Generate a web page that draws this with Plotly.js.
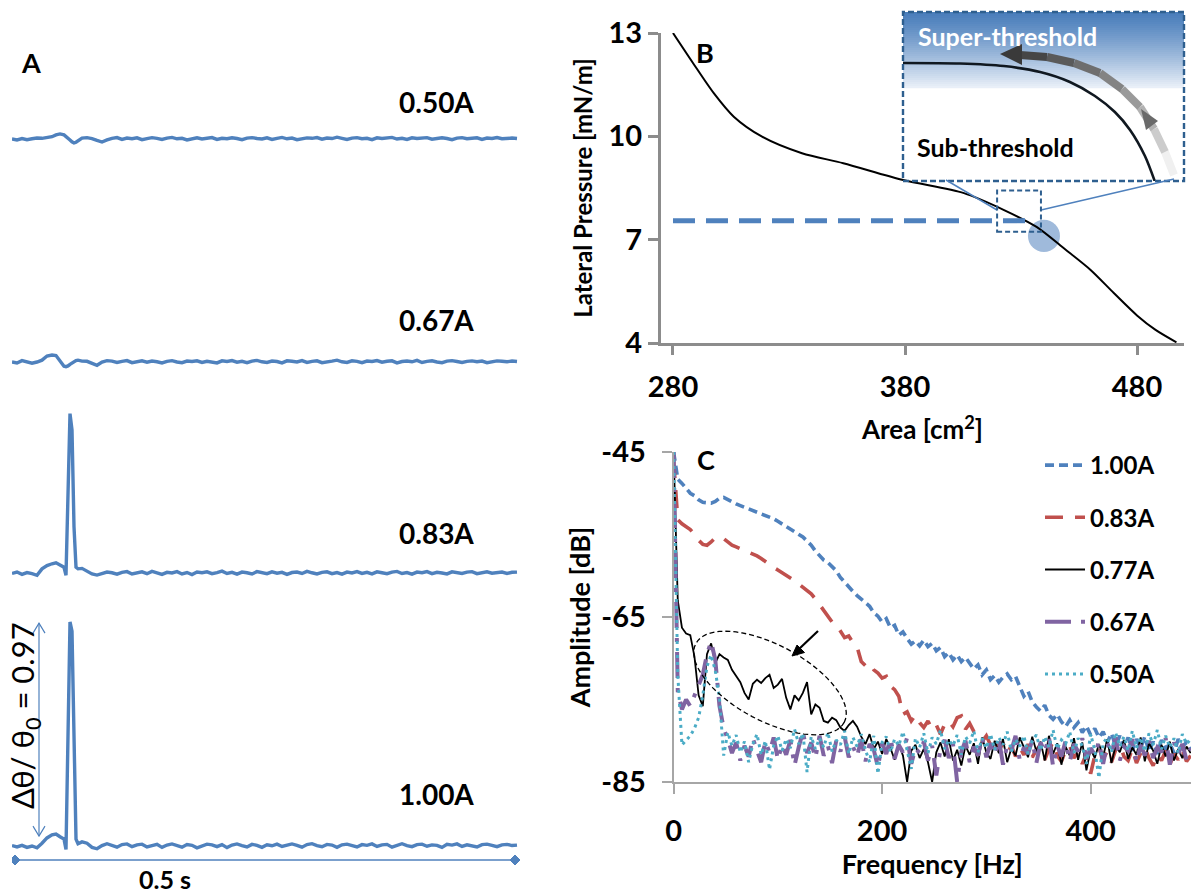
<!DOCTYPE html>
<html><head><meta charset="utf-8">
<script src="https://cdn.plot.ly/plotly-3.0.1.min.js"></script>
<style>html,body{margin:0;padding:0;background:#fff;}#chart{width:1191px;height:896px;}</style>
</head><body><div id="chart"></div>
<script>
// ---------------- Panel A : time traces (Δθ/θ0 vs time, s) ----------------
const timeS = [0,0.005,0.01,0.015,0.02,0.025,0.03,0.035,0.04,0.044,0.048,0.052,0.054,0.056,0.058,0.06,0.062,0.064,0.066,0.07,0.075,0.08,0.085,0.09,0.095,0.1,0.105,0.11,0.115,0.12,0.125,0.13,0.135,0.14,0.145,0.15,0.155,0.16,0.165,0.17,0.175,0.18,0.185,0.19,0.195,0.2,0.205,0.21,0.215,0.22,0.225,0.23,0.235,0.24,0.245,0.25,0.255,0.26,0.265,0.27,0.275,0.28,0.285,0.29,0.295,0.3,0.305,0.31,0.315,0.32,0.325,0.33,0.335,0.34,0.345,0.35,0.355,0.36,0.365,0.37,0.375,0.38,0.385,0.39,0.395,0.4,0.405,0.41,0.415,0.42,0.425,0.43,0.435,0.44,0.445,0.45,0.455,0.46,0.465,0.47,0.475,0.48,0.485,0.49,0.495,0.5,0.505];
const trace100A = [0.002,-0.004,0.003,-0.006,0.000,-0.008,0.012,0.035,0.048,0.052,
0.040,0.030,-0.015,0.50,0.97,0.93,0.40,0.030,0.010,0.018,
0.012,-0.006,-0.012,0.002,0.010,0.004,-0.005,0.006,0.009,-0.003,
0.005,0.008,-0.004,0.002,0.007,-0.006,0.004,0.009,0.001,-0.005,
0.006,0.003,-0.008,0.002,0.008,0.005,-0.003,0.006,-0.007,0.004,
0.009,0.002,-0.004,0.007,0.003,-0.006,0.005,0.001,0.008,-0.002,
0.004,0.009,0.003,-0.005,0.006,0.010,0.002,-0.003,0.007,0.004,
-0.006,0.005,0.008,0.001,-0.004,0.006,0.003,0.009,-0.002,0.005,
0.007,-0.005,0.004,0.010,0.002,-0.003,0.006,0.008,-0.001,0.005,
0.003,-0.006,0.007,0.004,0.009,-0.002,0.005,0.001,-0.004,0.006,
0.008,0.003,-0.003,0.005,0.007,0.002,0.004];
const trace083A = [-0.002,0.004,-0.006,0.002,-0.003,-0.010,0.018,0.032,0.040,0.044,
0.035,0.025,-0.010,0.42,0.69,0.62,0.20,0.025,0.018,0.020,
0.008,-0.004,-0.009,-0.002,0.004,0.001,-0.005,0.003,0.006,-0.004,
0.002,0.005,-0.003,0.007,0.001,-0.006,0.003,0.000,0.006,-0.004,
0.002,-0.007,0.004,0.001,0.005,-0.003,0.002,0.008,-0.002,0.003,
-0.005,0.004,0.001,-0.004,0.006,0.002,-0.003,0.005,-0.001,0.003,
-0.006,0.002,0.004,-0.002,0.007,0.001,-0.004,0.003,0.005,-0.003,
0.002,-0.005,0.004,0.000,0.006,-0.002,0.003,-0.004,0.005,0.001,
-0.003,0.004,0.007,-0.002,0.002,-0.005,0.004,0.001,0.006,-0.003,
0.003,0.000,-0.004,0.005,0.002,-0.002,0.004,0.006,-0.003,0.002,
0.005,-0.001,0.003,0.004,-0.002,0.003,0.004];
const trace067A = [0.000,-0.004,0.006,0.002,-0.005,0.000,0.008,0.026,0.030,0.028,
0.006,-0.018,-0.020,-0.017,-0.010,-0.004,0.002,0.006,0.008,0.004,
0.003,-0.006,-0.014,0.000,0.006,
0.004,-0.002,0.003,0.006,-0.003,0.002,0.005,-0.001,0.004,0.001,
-0.004,0.003,0.006,0.000,-0.003,0.004,0.002,0.005,-0.002,0.003,
0.001,-0.004,0.005,0.002,0.006,-0.001,0.003,-0.003,0.004,0.007,
0.001,-0.002,0.004,0.002,-0.004,0.005,0.003,0.000,0.006,-0.002,
0.003,0.005,-0.003,0.002,0.004,0.008,0.001,-0.002,0.005,0.003,
-0.003,0.004,0.002,0.006,-0.001,0.003,0.005,-0.004,0.002,0.004,
0.001,0.007,-0.002,0.003,0.005,0.000,-0.003,0.004,0.006,0.002,
-0.002,0.003,0.005,0.001,0.004,-0.003,0.002,0.005,0.003,0.001,
0.004,0.002];
const trace050A = [0.000,-0.004,0.002,-0.003,0.001,0.004,0.003,0.008,0.010,0.018,
0.022,0.018,0.012,0.004,-0.004,-0.012,-0.017,-0.014,-0.008,0.004,
0.006,0.002,-0.006,-0.013,-0.004,
0.003,0.006,-0.002,0.004,0.001,0.005,-0.003,0.002,0.006,0.003,
-0.002,0.004,0.007,0.001,0.003,-0.004,0.002,0.005,0.000,0.004,
0.006,-0.002,0.003,0.001,0.005,0.002,-0.003,0.004,0.006,0.002,
0.000,0.005,-0.002,0.003,0.007,0.001,0.004,-0.003,0.002,0.005,
0.003,0.006,-0.001,0.004,0.002,0.008,0.003,-0.002,0.004,0.006,
0.001,0.003,-0.003,0.005,0.002,0.004,0.007,0.000,0.003,-0.002,
0.005,0.002,0.004,0.006,-0.001,0.003,0.005,0.002,-0.003,0.004,
0.006,0.001,0.003,0.005,-0.002,0.004,0.002,0.006,0.001,0.003,
0.004,0.002];
const traceLabelsA = ['1.00A','0.83A','0.67A','0.50A'];
const deltaTheta = 0.97;

// ---------------- Panel B : isotherm ----------------
const areaCm2 = [280,288.6,297.5,306.2,318.4,335.6,353.4,379.3,405.4,422.7,436.7,449,460,470,480,488,497];
const pressureMNm = [13,12.13,11.26,10.57,9.99,9.51,9.22,8.73,8.35,7.86,7.37,6.72,6.12,5.45,4.8,4.38,4.02];
const thresholdPressure = 7.55;
const areaTicks = [280,380,480];
const pressureTicks = [4,7,10,13];
// inset (zoomed, normalized units)
const insetX = [0,0.203,0.359,0.488,0.594,0.683,0.754,0.808,0.861,0.897];
const insetY = [0.698,0.695,0.680,0.645,0.586,0.503,0.408,0.302,0.148,-0.006];

// ---------------- Panel C : spectra ----------------
const freqHz = [0,4,8,12,16,20,24,28,32,36,40,44,48,52,56,60,64,68,72,76,80,84,88,92,96,100,104,108,112,116,120,124,128,132,136,140,144,148,152,156,160,164,168,172,176,180,184,188,192,196,200,204,208,212,216,220,224,228,232,236,240,244,248,252,256,260,264,268,272,276,280,284,288,292,296,300,304,308,312,316,320,324,328,332,336,340,344,348,352,356,360,364,368,372,376,380,384,388,392,396,400,404,408,412,416,420,424,428,432,436,440,444,448,452,456,460,464,468,472,476,480,484,488,492,496];
const amp100 = [-45,-48.3,-48.8,-49.4,-50,-50.3,-50.8,-51.1,-51.2,-51.2,
-51,-50.6,-50.5,-50.8,-51.1,-51.3,-51.5,-51.7,-51.9,-52.1,
-52.2,-52.4,-52.6,-52.9,-53.1,-53.4,-53.7,-54.0,-54.3,-54.6,
-54.9,-55.3,-55.8,-56.3,-57.0,-57.6,-58.1,-58.4,-58.9,-59.4,
-60.2,-60.8,-61.3,-61.9,-62.4,-62.8,-63.2,-63.7,-64.5,-64.9,
-65.6,-65.2,-66.3,-66.0,-67.2,-66.8,-67.6,-68.3,-67.9,-68.5,
-67.8,-68.6,-68.2,-69.1,-68.7,-69.8,-69.3,-70.2,-69.6,-70.4,
-69.9,-70.6,-71.3,-70.8,-72.0,-71.4,-72.6,-72.1,-72.9,-72.3,
-71.9,-72.6,-72.2,-73.4,-74.6,-74.0,-75.3,-75.9,-76.4,-75.7,
-76.9,-77.4,-76.8,-77.7,-78.3,-77.5,-78.4,-77.8,-79.0,-78.2,
-79.3,-78.5,-79.6,-78.9,-80.2,-79.1,-80.6,-79.4,-80.8,-79.6,
-81.2,-79.8,-80.9,-79.5,-81.3,-80.1,-81.6,-79.9,-81.0,-80.3,
-81.5,-79.8,-80.7,-80.2,-81.1];
const amp083 = [-46,-53.2,-53.7,-54.0,-54.4,-55.0,-55.7,-56.2,-56.3,-55.9,
-55.4,-55.3,-55.5,-55.9,-56.3,-56.5,-56.7,-56.9,-57.1,-57.3,
-57.6,-57.9,-58.3,-58.7,-59.0,-59.3,-59.6,-59.9,-60.2,-60.6,
-61.0,-61.4,-61.8,-62.2,-62.8,-63.5,-64.2,-64.9,-65.6,-65.9,
-66.8,-67.5,-67.3,-68.1,-68.6,-70.4,-70.9,-70.6,-71.4,-71.8,
-72.4,-72.2,-73.4,-73.8,-74.6,-76.8,-76.5,-77.6,-76.9,-77.8,
-78.4,-77.6,-78.6,-78.1,-79.2,-78.0,-77.6,-78.3,-77.2,-77.0,
-78.6,-77.9,-78.9,-79.3,-80.1,-79.4,-80.5,-79.8,-81.2,-80.3,
-81.5,-80.6,-81.9,-80.8,-81.7,-80.4,-82.0,-81.1,-80.5,-82.3,
-81.0,-80.2,-81.8,-82.5,-81.2,-80.6,-82.1,-81.4,-82.8,-81.6,
-84.0,-81.8,-80.9,-82.2,-81.3,-82.6,-81.1,-80.4,-81.9,-82.4,
-81.0,-82.7,-81.5,-80.8,-82.1,-83.0,-81.7,-82.4,-81.2,-82.9,
-81.6,-82.3,-81.1,-82.5,-81.8];
const amp077 = [-45,-63.0,-66.3,-67.0,-67.2,-69.8,-74.5,-75.8,-69.5,-68.2,
-70.6,-69.5,-69.9,-70.2,-71.4,-72.1,-72.9,-74.2,-75.0,-73.1,
-72.6,-73.0,-72.4,-72.0,-73.6,-73.2,-72.5,-74.8,-76.2,-74.5,
-75.1,-74.2,-72.9,-76.8,-75.6,-76.0,-77.6,-77.8,-77.2,-77.5,
-78.4,-78.8,-78.1,-77.6,-78.3,-79.5,-80.4,-79.2,-81.0,-80.1,
-81.6,-79.8,-80.9,-82.3,-80.4,-81.8,-85.0,-81.2,-80.5,-82.1,
-81.0,-82.6,-85.0,-81.4,-80.2,-81.9,-79.8,-82.4,-81.1,-83.0,
-80.6,-81.7,-80.3,-82.8,-79.6,-81.4,-82.2,-80.0,-81.5,-79.8,
-82.6,-80.9,-81.8,-79.6,-80.8,-82.0,-79.5,-81.3,-80.1,-82.4,
-79.4,-81.6,-80.3,-82.9,-80.7,-81.8,-79.7,-82.3,-80.2,-83.6,
-81.0,-82.1,-80.4,-81.9,-79.8,-82.7,-80.6,-81.4,-79.9,-82.2,
-80.8,-81.7,-79.6,-82.5,-80.3,-81.2,-82.8,-80.5,-81.9,-80.1,
-82.4,-81.0,-82.1,-80.7,-81.5];
const amp067 = [-45,-74.0,-76.2,-75.0,-75.8,-74.6,-73.5,-72.0,-69.5,-68.0,
-70.2,-75.8,-78.5,-79.8,-81.5,-80.2,-82.4,-80.6,-81.9,-79.7,
-81.2,-82.6,-80.1,-81.4,-79.6,-82.3,-80.5,-81.7,-79.9,-83.0,
-80.8,-78.9,-81.5,-80.2,-82.1,-79.4,-81.8,-80.6,-82.7,-80.0,
-81.3,-79.5,-82.0,-80.7,-81.9,-79.8,-82.5,-80.4,-81.1,-83.2,
-80.3,-81.6,-79.7,-82.2,-80.5,-81.4,-79.6,-82.8,-80.9,-81.5,
-80.1,-82.4,-80.6,-84.2,-81.0,-79.9,-82.1,-80.4,-85.0,-81.3,
-80.0,-82.6,-80.7,-81.8,-79.6,-82.0,-80.3,-81.7,-79.8,-82.9,
-80.5,-81.2,-79.4,-82.3,-80.8,-81.6,-79.9,-82.7,-80.2,-81.4,
-79.5,-83.1,-80.6,-81.9,-80.0,-82.5,-80.4,-81.3,-79.7,-82.2,
-80.9,-81.7,-80.1,-82.8,-80.3,-81.5,-79.6,-82.4,-80.7,-81.2,
-79.8,-82.6,-80.5,-81.8,-80.0,-82.1,-80.8,-81.4,-79.7,-82.9,
-80.2,-81.6,-80.4,-82.3,-80.9];
const amp050 = [-45,-72.0,-80.5,-80.0,-79.4,-78.5,-77.2,-74.5,-71.0,-69.6,
-71.5,-74.8,-81.8,-79.0,-80.6,-79.3,-81.4,-80.1,-82.6,-80.4,
-79.2,-81.7,-80.0,-83.5,-80.6,-79.4,-81.2,-79.8,-80.9,-78.6,
-80.4,-79.1,-83.8,-79.5,-81.0,-79.7,-80.8,-79.0,-81.3,-79.9,
-80.5,-78.8,-81.6,-79.6,-80.7,-79.2,-81.1,-82.6,-79.4,-84.0,
-80.2,-79.5,-81.4,-79.8,-80.6,-78.9,-81.2,-83.4,-79.7,-80.8,
-79.1,-81.5,-79.6,-80.4,-78.7,-81.0,-79.9,-80.6,-79.3,-81.7,
-79.5,-80.3,-78.8,-81.4,-79.7,-80.9,-79.2,-81.1,-79.6,-80.5,
-78.9,-81.3,-79.8,-80.7,-79.4,-81.6,-80.0,-79.3,-81.2,-79.5,
-80.8,-78.7,-81.0,-79.9,-80.4,-78.9,-81.5,-79.7,-80.6,-82.8,
-79.2,-81.1,-84.5,-80.3,-79.6,-81.4,-79.0,-80.7,-79.5,-81.2,
-78.8,-80.9,-79.6,-81.3,-79.1,-80.5,-78.7,-81.0,-79.4,-80.8,
-79.7,-81.5,-79.2,-80.4,-79.8];
const spectraNames = ['1.00A','0.83A','0.77A','0.67A','0.50A'];
const freqTicks = [0,200,400];
const ampTicks = [-45,-65,-85];

// ---------------- helpers / styles ----------------
const W = 1191, H = 896;
const fx = p => p / W, fy = p => 1 - p / H;
const FONT = 'Lato, "Open Sans", "DejaVu Sans", sans-serif';
const BLUE = '#4F81BD', DARKBLUE = '#2E5F8F';
const S = 231; // px per unit of Δθ/θ0
const yDom = (base, lo, hi) => [fy(base - lo * S), fy(base - hi * S)];
const font = (size, color) => ({family: FONT, size: size, color: color || '#000'});
const B = s => '<b>' + s + '</b>';

const traces = [];
// Panel A
const aSeries = [trace100A, trace083A, trace067A, trace050A];
const aY = ['y3', 'y4', 'y5', 'y6'];
aSeries.forEach((s, i) => traces.push({x: timeS, y: s, xaxis: 'x3', yaxis: aY[i], mode: 'lines',
  line: {color: BLUE, width: 3.4}, showlegend: false, name: traceLabelsA[i], hoverinfo: 'skip'}));
// Panel B
traces.push({x: areaCm2, y: pressureMNm, xaxis: 'x', yaxis: 'y', mode: 'lines',
  line: {color: '#000', width: 2, shape: 'spline', smoothing: 0.8}, showlegend: false, hoverinfo: 'skip'});
traces.push({x: insetX, y: insetY, xaxis: 'x4', yaxis: 'y7', mode: 'lines',
  line: {color: '#101820', width: 2.6, shape: 'spline', smoothing: 0.8}, showlegend: false, hoverinfo: 'skip'});
// Panel C
const cSeries = [amp100, amp083, amp077, amp067, amp050];
const cStyle = [
  {color: '#4F81BD', width: 3.6, dash: '9px,5px'},
  {color: '#C0504D', width: 3.6, dash: '18px,12px'},
  {color: '#000000', width: 1.8},
  {color: '#8064A2', width: 4, dash: '26px,10px,4px,10px'},
  {color: '#4BACC6', width: 3, dash: '3px,4px'}
];
cSeries.forEach((s, i) => traces.push({x: freqHz, y: s, xaxis: 'x2', yaxis: 'y2', mode: 'lines',
  line: cStyle[i], name: B(spectraNames[i]), legendgroup: 'g' + i, hoverinfo: 'skip'}));

// ---------------- shapes ----------------
const shapes = [];
const poly = (pts, close) => 'M ' + pts.map(p => fx(p[0]) + ' ' + fy(p[1])).join(' L ') + (close ? ' Z' : '');
// inset gradient (paper px)
const gTop = 12, gBot = 88;
for (let p = gTop; p < gBot; p += 2) {
  const t = Math.pow((p - gTop) / (gBot - gTop), 1.2);
  const r = Math.round(74 + (238 - 74) * t), g = Math.round(126 + (243 - 126) * t), b = Math.round(187 + (250 - 187) * t);
  shapes.push({type: 'rect', xref: 'paper', yref: 'paper', x0: fx(903), x1: fx(1184), y0: fy(p + 2.2), y1: fy(p),
    fillcolor: `rgb(${r},${g},${b})`, line: {width: 0}, layer: 'below'});
}
// inset frame
shapes.push({type: 'rect', xref: 'paper', yref: 'paper', x0: fx(903), x1: fx(1184), y0: fy(181), y1: fy(12),
  line: {color: DARKBLUE, width: 2.4, dash: '6px,3px'}, fillcolor: 'rgba(0,0,0,0)'});
// connector lines
shapes.push({type: 'line', xref: 'paper', yref: 'paper', x0: fx(946), y0: fy(180), x1: fx(997), y1: fy(210), line: {color: BLUE, width: 1.5}});
shapes.push({type: 'line', xref: 'paper', yref: 'paper', x0: fx(1041), y0: fy(210), x1: fx(1174), y1: fy(179), line: {color: BLUE, width: 1.5}});
// threshold circle
shapes.push({type: 'circle', xref: 'x', yref: 'y', x0: 433, x1: 446.8, y0: 6.64, y1: 7.58,
  fillcolor: 'rgba(149,179,215,0.9)', line: {width: 0}, layer: 'below'});
// dashed threshold line
shapes.push({type: 'line', xref: 'x', yref: 'y', x0: 280, x1: 434, y0: thresholdPressure, y1: thresholdPressure,
  line: {color: BLUE, width: 5, dash: '22px,11px'}});
// small zoom box
shapes.push({type: 'rect', xref: 'x', yref: 'y', x0: 419.7, x1: 438.6, y0: 7.23, y1: 8.43,
  line: {color: DARKBLUE, width: 2, dash: '5px,3px'}});
// gray gradient arrow in inset
const arrPts = [[1174,175],[1165,152],[1154,129],[1140,107],[1122,89],[1100,73],[1074,63],[1047,57],[1020,55]];
for (let i = 0; i < arrPts.length - 1; i++) {
  const t = i / (arrPts.length - 2);
  const c = Math.round(240 - (240 - 70) * Math.pow(t, 0.8));
  shapes.push({type: 'line', xref: 'paper', yref: 'paper', x0: fx(arrPts[i][0]), y0: fy(arrPts[i][1]),
    x1: fx(arrPts[i + 1][0]), y1: fy(arrPts[i + 1][1]), line: {color: `rgb(${c},${c},${c})`, width: 8}});
}
shapes.push({type: 'path', xref: 'paper', yref: 'paper', path: poly([[1000,54],[1022,44],[1022,65]], true), fillcolor: '#3a3a3a', line: {width: 0}});
shapes.push({type: 'path', xref: 'paper', yref: 'paper', path: poly([[1141,109],[1158,121],[1146,130]], true), fillcolor: '#6a6a6a', line: {width: 0}});
// scale bar (panel A)
const barY = fy(860);
shapes.push({type: 'line', xref: 'x3', yref: 'paper', x0: 0.003, x1: 0.503, y0: barY, y1: barY, line: {color: BLUE, width: 1.5}});
[0.003, 0.503].forEach(xv => shapes.push({type: 'path', xref: 'x3', yref: 'paper', xsizemode: 'pixel', ysizemode: 'pixel',
  xanchor: xv, yanchor: barY, path: 'M -5 0 L 0 5 L 5 0 L 0 -5 Z', fillcolor: BLUE, line: {color: BLUE, width: 1}}));
// Δθ double arrow (panel A, 1.00A amplitude)
const arrX = 0.027, arrBot = 0.043, arrTop = deltaTheta - 0.005;
shapes.push({type: 'line', xref: 'x3', yref: 'y3', x0: arrX, x1: arrX, y0: arrBot, y1: arrTop, line: {color: BLUE, width: 1.2}});
shapes.push({type: 'path', xref: 'x3', yref: 'y3', xsizemode: 'pixel', ysizemode: 'pixel', xanchor: arrX, yanchor: arrTop,
  path: 'M -6 -10 L 0 0 L 6 -10', line: {color: BLUE, width: 1.2}});
shapes.push({type: 'path', xref: 'x3', yref: 'y3', xsizemode: 'pixel', ysizemode: 'pixel', xanchor: arrX, yanchor: arrBot,
  path: 'M -6 10 L 0 0 L 6 10', line: {color: BLUE, width: 1.2}});
// dashed ellipse in panel C
(function () {
  const cx = 770, cy = 683, a = 84, b = 38, ang = 28 * Math.PI / 180;
  const pts = [];
  for (let k = 0; k <= 72; k++) {
    const th = k / 72 * 2 * Math.PI;
    const ex = a * Math.cos(th), ey = b * Math.sin(th);
    pts.push([cx + ex * Math.cos(ang) - ey * Math.sin(ang), cy + ex * Math.sin(ang) + ey * Math.cos(ang)]);
  }
  shapes.push({type: 'path', xref: 'paper', yref: 'paper', path: poly(pts, false),
    line: {color: '#000', width: 1.3, dash: '5px,3px'}});
})();
// black arrow in panel C
shapes.push({type: 'line', xref: 'paper', yref: 'paper', x0: fx(818), y0: fy(631), x1: fx(799), y1: fy(649), line: {color: '#000', width: 2.2}});
shapes.push({type: 'path', xref: 'paper', yref: 'paper', path: poly([[792,656],[804.5,652.5],[797,645]], true), fillcolor: '#000', line: {color: '#000', width: 1}});

// ---------------- annotations ----------------
const ann = [];
const txt = (text, px, py, f, extra) => ann.push(Object.assign({text: text, xref: 'paper', yref: 'paper',
  x: fx(px), y: fy(py), showarrow: false, font: f, xanchor: 'center', yanchor: 'middle'}, extra || {}));
txt(B('A'), 31, 62, font(27));
txt(B('B'), 705, 53, font(27));
txt(B('C'), 706, 459, font(27));
txt(B(traceLabelsA[3]), 436, 102, font(28));
txt(B(traceLabelsA[2]), 436, 320, font(28));
txt(B(traceLabelsA[1]), 436, 533, font(28));
txt(B(traceLabelsA[0]), 436, 794, font(28));
txt(B('0.5 s'), 165, 879, font(25));
txt('Δθ/ θ<sub>0</sub> = ' + deltaTheta.toFixed(2), 24, 716, font(31), {textangle: -90});
txt(B('Super-threshold'), 1007, 36, font(25, '#ffffff'));
txt(B('Sub-threshold'), 995, 147, font(25));

// ---------------- layout ----------------
const gray = '#8c8c8c', gray2 = '#a6a6a6';
const hidden = {visible: false, fixedrange: true, showgrid: false, zeroline: false};
const layout = {
  width: W, height: H, margin: {l: 0, r: 0, t: 0, b: 0},
  paper_bgcolor: '#ffffff', plot_bgcolor: 'rgba(0,0,0,0)',
  font: {family: FONT, color: '#000'}, hovermode: false,
  showlegend: true,
  legend: {x: fx(1040), y: fy(443), xanchor: 'left', yanchor: 'top', bgcolor: 'rgba(0,0,0,0)',
    font: font(24), itemwidth: 40, tracegroupgap: 18},
  // Panel B
  xaxis: {domain: [fx(661), fx(1184)], range: [274.83, 500.26], anchor: 'y', showline: true, linecolor: gray, linewidth: 3,
    ticks: 'outside', ticklen: 9, tickwidth: 3, tickcolor: gray, tickvals: areaTicks, ticktext: areaTicks.map(v => B(v)),
    tickfont: font(29), ticklabelstandoff: 7, showgrid: false, zeroline: false,
    title: {text: B('Area [cm<sup>2</sup>]'), font: font(26), standoff: 20}},
  yaxis: {domain: [fy(343), fy(33)], range: [4, 13], anchor: 'x', showline: true, linecolor: gray, linewidth: 3,
    ticks: 'outside', ticklen: 10, tickwidth: 3, tickcolor: gray, tickvals: pressureTicks, ticktext: pressureTicks.map(v => B(v)),
    tickfont: font(29), ticklabelstandoff: 0, showgrid: false, zeroline: false,
    title: {text: B('Lateral Pressure [mN/m]'), font: font(24), standoff: 10}},
  // Panel C
  xaxis2: {domain: [fx(673.6), 1], range: [0, 496.3], anchor: 'y2', showline: true, linecolor: gray2, linewidth: 2,
    ticks: 'outside', ticklen: 10, tickwidth: 2, tickcolor: gray2, tickvals: freqTicks, ticktext: freqTicks.map(v => B(v)),
    tickfont: font(29), ticklabelstandoff: 12, showgrid: false, zeroline: false,
    title: {text: B('Frequency [Hz]'), font: font(27), standoff: 1}},
  yaxis2: {domain: [fy(782), fy(452)], range: [-85, -45], anchor: 'x2', showline: true, linecolor: gray2, linewidth: 2,
    ticks: 'outside', ticklen: 10, tickwidth: 2, tickcolor: gray2, tickvals: ampTicks, ticktext: ampTicks.map(v => B('-' + Math.abs(v))),
    tickfont: font(29), ticklabelstandoff: 10, showgrid: false, zeroline: false,
    title: {text: B('Amplitude [dB]'), font: font(27), standoff: 3}},
  // Panel A
  xaxis3: Object.assign({domain: [fx(12), fx(520)], range: [0, 0.508], anchor: 'y3'}, hidden),
  yaxis3: Object.assign({domain: yDom(846, -0.08, 1.0), range: [-0.08, 1.0], anchor: 'x3'}, hidden),
  yaxis4: Object.assign({domain: yDom(573, -0.08, 0.75), range: [-0.08, 0.75], anchor: 'x3'}, hidden),
  yaxis5: Object.assign({domain: yDom(362, -0.08, 0.1), range: [-0.08, 0.1], anchor: 'x3'}, hidden),
  yaxis6: Object.assign({domain: yDom(139, -0.08, 0.1), range: [-0.08, 0.1], anchor: 'x3'}, hidden),
  // Inset
  xaxis4: Object.assign({domain: [fx(903), fx(1184)], range: [0, 1], anchor: 'y7'}, hidden),
  yaxis7: Object.assign({domain: [fy(181), fy(12)], range: [0, 1], anchor: 'x4'}, hidden),
  shapes: shapes, annotations: ann
};
Plotly.newPlot('chart', traces, layout, {staticPlot: true, displayModeBar: false});
</script></body></html>
